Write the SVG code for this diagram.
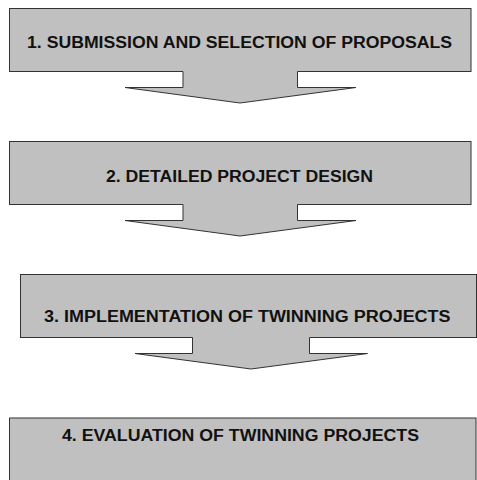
<svg xmlns="http://www.w3.org/2000/svg" width="477" height="480" viewBox="0 0 477 480">
<style>
.box{fill:#c0c0c0;stroke:#333;stroke-width:1}
.af{fill:#c0c0c0;stroke:none}
.as{fill:none;stroke:#333;stroke-width:1;stroke-linejoin:miter}
.t{font-family:"Liberation Sans",Arial,sans-serif;font-weight:bold;font-size:16px;fill:#111;text-anchor:middle}
</style>
<rect width="477" height="480" fill="#fff"/>
<g id="node1">
<rect class="box" x="9.5" y="8.5" width="461.5" height="63"/>
<text class="t" x="239.5" y="47.5" textLength="425" lengthAdjust="spacingAndGlyphs">1. SUBMISSION AND SELECTION OF PROPOSALS</text>
</g>
<g id="node2">
<rect class="box" x="9.5" y="141.5" width="461.5" height="63"/>
<text class="t" x="239.5" y="181.7" textLength="267" lengthAdjust="spacingAndGlyphs">2. DETAILED PROJECT DESIGN</text>
</g>
<g id="node3">
<rect class="box" x="20.5" y="274.5" width="456" height="63"/>
<text class="t" x="247.3" y="321.7" textLength="406.5" lengthAdjust="spacingAndGlyphs">3. IMPLEMENTATION OF TWINNING PROJECTS</text>
</g>
<g id="node4">
<rect class="box" x="9.5" y="418" width="466.5" height="80"/>
<text class="t" x="240.5" y="441" textLength="357" lengthAdjust="spacingAndGlyphs">4. EVALUATION OF TWINNING PROJECTS</text>
</g>
<g id="connectors">
<polygon class="af" points="183,70 183,87.5 125,87.5 240,103 356,87.5 297.5,87.5 297.5,70"/>
<polyline class="as" points="183,71.5 183,87.5 125,87.5 240,103 356,87.5 297.5,87.5 297.5,71.5"/>
<polygon class="af" points="183,203 183,220.5 125,220.5 240,236 356,220.5 297.5,220.5 297.5,203"/>
<polyline class="as" points="183,204.5 183,220.5 125,220.5 240,236 356,220.5 297.5,220.5 297.5,204.5"/>
<polygon class="af" points="192.5,336 192.5,353.5 135,353.5 251,369 367.5,353.5 309.5,353.5 309.5,336"/>
<polyline class="as" points="192.5,337.5 192.5,353.5 135,353.5 251,369 367.5,353.5 309.5,353.5 309.5,337.5"/>
</g>
</svg>
